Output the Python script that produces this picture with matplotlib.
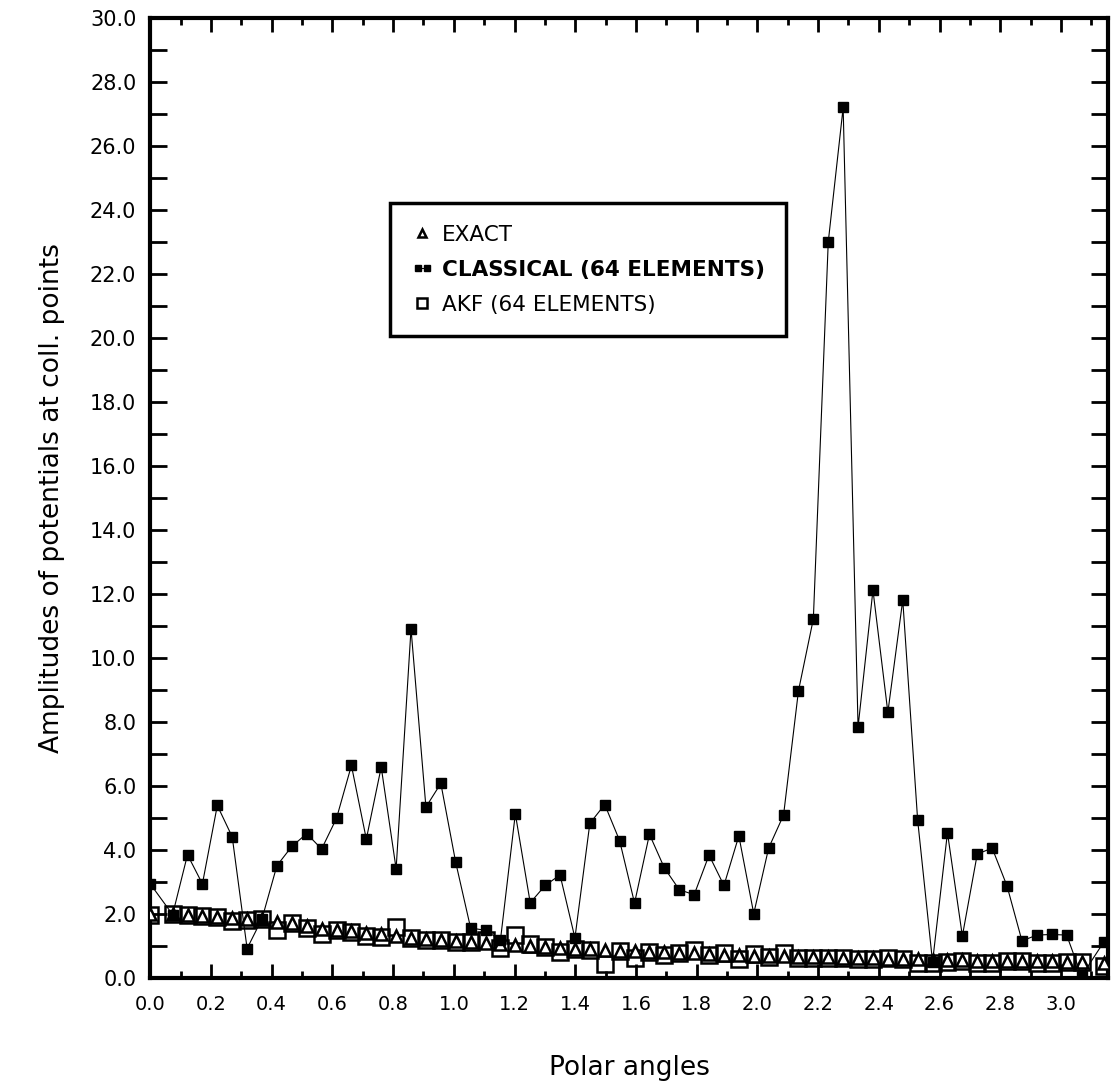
import numpy as np
import matplotlib.pyplot as plt
from matplotlib.ticker import MultipleLocator, FormatStrFormatter
from matplotlib.legend_handler import HandlerLine2D

# 64 collocation points: poles plus interior element midpoints
n_elem = 64
h = np.pi / n_elem
polar = np.r_[0.0, (np.arange(1, n_elem - 1) + 0.5) * h, np.pi]

exact = [2.00, 2.00, 1.98, 1.95, 1.92, 1.88, 1.85, 1.84, 1.76, 1.72,
         1.63, 1.52, 1.51, 1.47, 1.41, 1.37, 1.31, 1.26, 1.22, 1.20,
         1.15, 1.13, 1.10, 1.07, 1.04, 1.01, 0.98, 0.95, 0.92, 0.89,
         0.87, 0.85, 0.84, 0.82, 0.80, 0.78, 0.77, 0.75, 0.73, 0.72,
         0.70, 0.69, 0.68, 0.66, 0.65, 0.64, 0.63, 0.62, 0.61, 0.60,
         0.59, 0.58, 0.57, 0.56, 0.55, 0.54, 0.54, 0.53, 0.53, 0.52,
         0.52, 0.51, 0.51, 0.48]

classical = [2.94, 1.98, 3.85, 2.94, 5.39, 4.41, 0.92, 1.85, 3.51, 4.11,
             4.51, 4.03, 4.99, 6.64, 4.34, 6.59, 3.41, 10.91, 5.34, 6.08,
             3.61, 1.56, 1.49, 1.18, 5.13, 2.35, 2.89, 3.22, 1.25, 4.83,
             5.42, 4.29, 2.34, 4.49, 3.44, 2.76, 2.60, 3.84, 2.89, 4.44,
             2.01, 4.06, 5.09, 8.97, 11.22, 23.00, 27.20, 7.84, 12.12, 8.30,
             11.81, 4.93, 0.50, 4.54, 1.31, 3.87, 4.06, 2.87, 1.16, 1.34,
             1.36, 1.34, 0.06, 1.13]

akf = [1.98, 2.00, 1.98, 1.93, 1.92, 1.78, 1.82, 1.83, 1.51, 1.72,
       1.56, 1.36, 1.51, 1.44, 1.30, 1.28, 1.59, 1.25, 1.20, 1.19,
       1.12, 1.13, 1.18, 0.94, 1.34, 1.07, 0.97, 0.80, 0.92, 0.86,
       0.45, 0.84, 0.61, 0.82, 0.72, 0.79, 0.86, 0.72, 0.78, 0.58,
       0.74, 0.67, 0.78, 0.62, 0.62, 0.63, 0.63, 0.60, 0.60, 0.63,
       0.60, 0.47, 0.47, 0.51, 0.53, 0.46, 0.47, 0.52, 0.52, 0.48,
       0.48, 0.49, 0.50, 0.36]

plt.rcParams['font.family'] = ['DejaVu Sans']

fig = plt.figure(figsize=(11.13, 10.91), dpi=100)
ax = fig.add_axes([0.135, 0.1036, 0.8605, 0.88])

l_exact, = ax.plot(polar, exact, linestyle='none', marker='^', markersize=9,
                   markerfacecolor='white', markeredgecolor='black',
                   markeredgewidth=1.8, label='EXACT', zorder=3)
l_class, = ax.plot(polar, classical, color='black', linewidth=0.8, marker='s',
                   markersize=6.5, markerfacecolor='black',
                   markeredgecolor='black', label='CLASSICAL (64 ELEMENTS)',
                   zorder=4)
l_akf, = ax.plot(polar, akf, linestyle='none', marker='s', markersize=11,
                 markerfacecolor='none', markeredgecolor='black',
                 markeredgewidth=1.8, label='AKF (64 ELEMENTS)', zorder=2)

ax.set_xlim(0, 3.155)
ax.set_ylim(0, 30)

ax.xaxis.set_major_locator(MultipleLocator(0.2))
ax.xaxis.set_minor_locator(MultipleLocator(0.1))
ax.yaxis.set_major_locator(MultipleLocator(2.0))
ax.yaxis.set_minor_locator(MultipleLocator(1.0))
ax.xaxis.set_major_formatter(FormatStrFormatter('%.1f'))
ax.yaxis.set_major_formatter(FormatStrFormatter('%.1f'))

ax.tick_params(which='both', direction='in', top=True, right=True, width=2)
ax.tick_params(axis='x', which='major', length=10, labelsize=14, pad=12)
ax.tick_params(axis='x', which='minor', length=5)
ax.tick_params(axis='y', which='both', length=12, labelsize=15, pad=10)

for sp in ax.spines.values():
    sp.set_linewidth(3)

ax.set_xlabel('Polar angles', fontsize=19, labelpad=30)
ax.set_ylabel('Amplitudes of potentials at coll. points', fontsize=19,
              labelpad=18)

leg = ax.legend(handles=[l_exact, l_class, l_akf],
                handler_map={l_class: HandlerLine2D(numpoints=2)},
                loc='upper left', bbox_to_anchor=(0.2505, 0.807),
                borderaxespad=0, fontsize=15.5, fancybox=False,
                markerscale=0.6, handlelength=1.0, handletextpad=0.4,
                borderpad=1.0, labelspacing=0.7, framealpha=1)
leg.get_frame().set_edgecolor('black')
leg.get_frame().set_linewidth(2.5)
leg.get_texts()[1].set_fontweight('bold')

fig.savefig('out.png', dpi=100)
